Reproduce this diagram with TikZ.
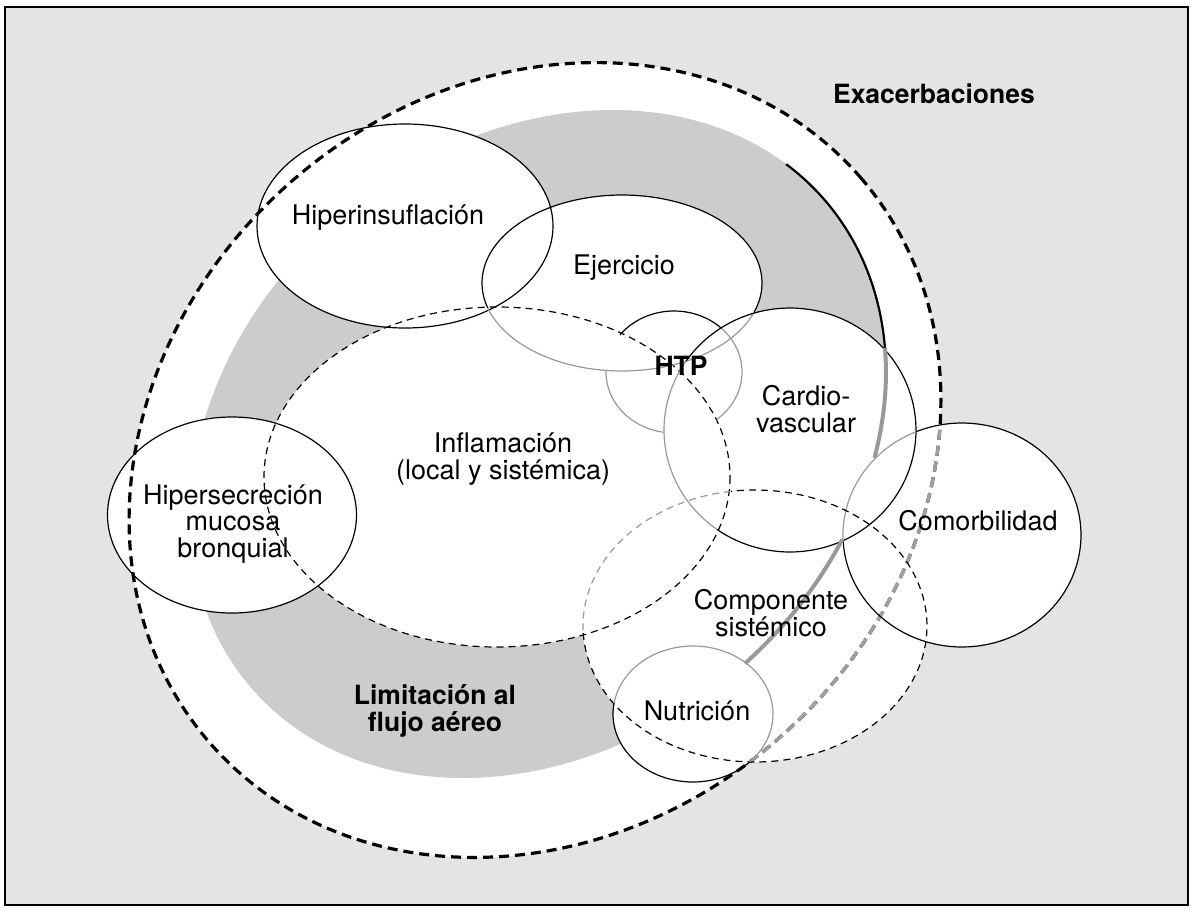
\documentclass[tikz,border=0pt]{standalone}
\usepackage{fontspec}
\setmainfont{TeX Gyre Heros}
\definecolor{bgc}{HTML}{E4E4E4}
\definecolor{bandc}{HTML}{CCCCCC}
\definecolor{lgray}{HTML}{999999}
\definecolor{dgray}{HTML}{A0A0A0}
\begin{document}
\begin{tikzpicture}[x=1pt,y=-1pt,
  outl/.style={line width=1.2pt},
  thind/.style={dash pattern=on 7pt off 5pt},
  thickd/.style={line width=3.2pt, dash pattern=on 10pt off 6pt},
  Erot/.style={rotate around={41:(535,460)}},
  Brot/.style={rotate around={39.6:(538,444)}},
  lab/.style={font=\fontsize{27}{26.5}\selectfont, align=center, inner sep=0pt},
  blab/.style={font=\fontsize{26.5}{26.5}\selectfont\bfseries, align=center, inner sep=0pt}]
\useasboundingbox (0,0) rectangle (1194,911);
\def\Eell{(535,460) ellipse [x radius=431, y radius=370]}
\def\Bell{(538,444) ellipse [x radius=376.5, y radius=301.5]}
\def\Hone{(405,226) ellipse [x radius=148, y radius=102]}
\def\Ej{(622,283) ellipse [x radius=140, y radius=88]}
\def\Htp{(674,372) ellipse [x radius=68, y radius=61]}
\def\Cv{(790,430) ellipse [x radius=126, y radius=122]}
\def\In{(497,477) ellipse [x radius=233, y radius=170]}
\def\Hs{(232,515) ellipse [x radius=124.5, y radius=98]}
\def\Co{(962,535) ellipse [x radius=119, y radius=112]}
\def\Cs{(755,626) ellipse [x radius=172, y radius=136]}
\def\Nu{(693,714) ellipse [x radius=80, y radius=68]}
% background
\fill[bgc] (5,7) rectangle (1188,905);
\draw[line width=2pt] (5,7) rectangle (1188,905);
% fills
\fill[white, Erot] \Eell;
\fill[bandc, Brot] \Bell;
\fill[white] \Hone;
\fill[white] \Ej;
\fill[white] \Htp;
\fill[white] \Cv;
\fill[white] \In;
\fill[white] \Hs;
\fill[white] \Co;
\fill[white] \Cs;
\fill[white] \Nu;
% big dashed ellipse
\draw[thickd, Erot] \Eell;
\begin{scope}
  \clip \Co;
  \draw[thickd, dgray, Erot] \Eell;
\end{scope}
\begin{scope}
  \clip \Cs;
  \draw[thickd, dgray, Erot] \Eell;
\end{scope}
% outlines
\draw[outl] \Hone;
\draw[outl] \Hs;
\draw[outl, thind] \In;
% Ejercicio
\draw[outl] plot[domain=340.6:556.5, samples=90] ({622+140*cos(\x)},{283-88*sin(\x)});
\draw[outl, lgray] plot[domain=196.5:340.6, samples=60] ({622+140*cos(\x)},{283-88*sin(\x)});
% HTP
\draw[outl] plot[domain=46.5:142.6, samples=40] ({674+68*cos(\x)},{372-61*sin(\x)});
\draw[outl, lgray] plot[domain=178.5:261, samples=40] ({674+68*cos(\x)},{372-61*sin(\x)});
\draw[outl, lgray] plot[domain=308.8:406.5, samples=40] ({674+68*cos(\x)},{372-61*sin(\x)});
% Cardiovascular
\draw[outl] plot[domain=234.6:505.7, samples=100] ({790+126*cos(\x)},{430-122*sin(\x)});
\draw[outl, lgray] plot[domain=145.7:234.6, samples=40] ({790+126*cos(\x)},{430-122*sin(\x)});
% Comorbilidad
\draw[outl] plot[domain=182.6:472.6, samples=100] ({962+119*cos(\x)},{535-112*sin(\x)});
\draw[outl, lgray] plot[domain=112.6:182.6, samples=40] ({962+119*cos(\x)},{535-112*sin(\x)});
% Componente sistemico
\draw[outl, thind] plot[domain=183:458, samples=110] ({755+172*cos(\x)},{626-136*sin(\x)});
\draw[outl, thind, lgray] plot[domain=98:183, samples=40] ({755+172*cos(\x)},{626-136*sin(\x)});
% Nutricion
\draw[outl] plot[domain=171:315.3, samples=60] ({693+80*cos(\x)},{714-68*sin(\x)});
\draw[outl, lgray] plot[domain=-44.7:171, samples=80] ({693+80*cos(\x)},{714-68*sin(\x)});
% band outer edge line
\draw[line width=2.2pt, Brot] plot[domain=-29.2:11, samples=40] ({538+376.5*cos(\x)},{444-301.5*sin(\x)});
\draw[line width=4pt, lgray, Brot] plot[domain=-48.3:-29.2, samples=30] ({538+376.5*cos(\x)},{444-301.5*sin(\x)});
\draw[line width=4pt, lgray, Brot] plot[domain=-87:-62.5, samples=30] ({538+376.5*cos(\x)},{444-301.5*sin(\x)});
% labels
\node[blab] (exa) at (934,94) {Exacerbaciones};
\node[lab] (hip) at (388,218) {Hiperinsuflación};
\node[lab] (eje) at (624,268) {Ejercicio};
\node[blab] (htp) at (681,366) {HTP};
\node[lab] (car) at (806,409) {Cardio-\\vascular};
\node[lab] (inf) at (503,459) {Inflamación\\(local y sistémica)};
\node[lab] (hse) at (233,524) {Hipersecreción\\mucosa\\bronquial};
\node[lab] (com) at (978,521) {Comorbilidad};
\node[lab] (cmp) at (771,613) {Componente\\sistémico};
\node[lab] (nut) at (697,711) {Nutrición};
\node[blab] (lim) at (435,711) {Limitación al\\flujo aéreo};
\end{tikzpicture}
\end{document}
